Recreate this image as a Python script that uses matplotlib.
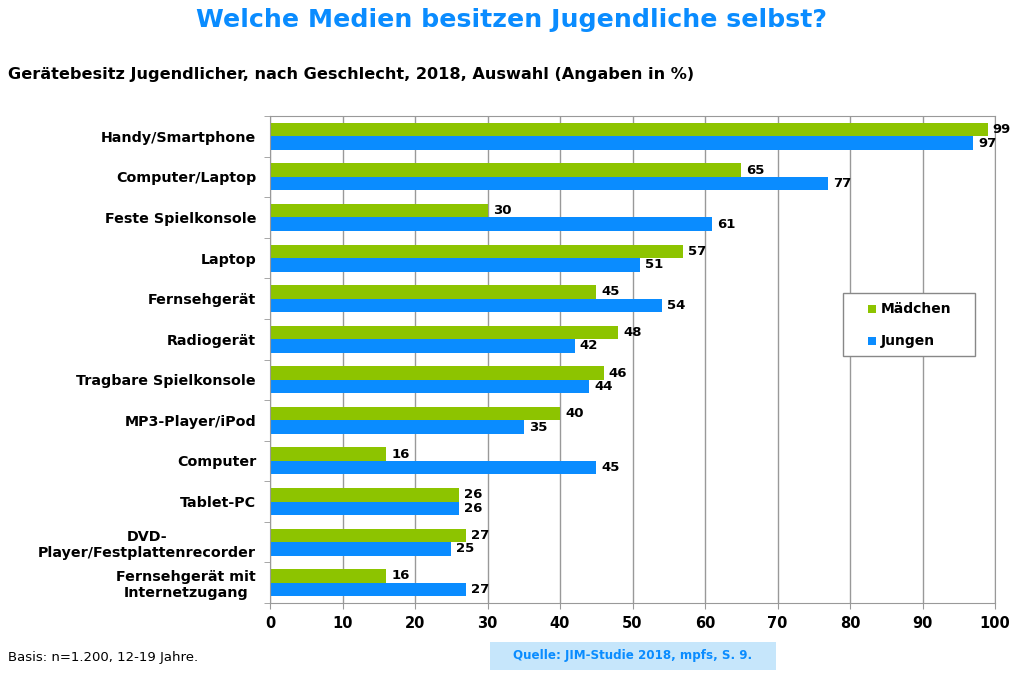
import matplotlib.pyplot as plt
from matplotlib.patches import Rectangle
import numpy as np

categories = ["Handy/Smartphone", "Computer/Laptop", "Feste Spielkonsole", "Laptop",
              "Fernsehgerät", "Radiogerät", "Tragbare Spielkonsole", "MP3-Player/iPod",
              "Computer", "Tablet-PC", "DVD-\nPlayer/Festplattenrecorder",
              "Fernsehgerät mit\nInternetzugang"]
maedchen = [99, 65, 30, 57, 45, 48, 46, 40, 16, 26, 27, 16]
jungen = [97, 77, 61, 51, 54, 42, 44, 35, 45, 26, 25, 27]

green = "#8dc400"
blue = "#0a8cff"
grey = "#999999"

plt.rcParams['font.family'] = ['DejaVu Sans']
W, H = 1024, 677
fig = plt.figure(figsize=(W / 100, H / 100), dpi=100)
ax = fig.add_axes([270 / W, 1 - 603 / H, 725 / W, 487 / H])

y = np.arange(len(categories))
h = 0.333
b1 = ax.barh(y - h / 2, maedchen, height=h, color=green)
b2 = ax.barh(y + h / 2, jungen, height=h, color=blue)

for bars, vals in ((b1, maedchen), (b2, jungen)):
    for bar, v in zip(bars, vals):
        ax.text(v + 0.7, bar.get_y() + bar.get_height() / 2, str(v),
                va="center", ha="left", fontsize=9.5, fontweight="bold")

ax.set_ylim(len(categories) - 0.5, -0.5)
ax.set_xlim(0, 100)
ax.set_xticks(range(0, 101, 10))
ax.set_yticks(y)
ax.set_yticklabels(categories, fontsize=10.3, fontweight="bold", ha="right",
                   multialignment="center")
ax.tick_params(axis="y", length=0, pad=10)
ax.set_yticks(np.arange(-0.5, len(categories), 1), minor=True)
ax.tick_params(axis="y", which="minor", length=4, color=grey)
ax.tick_params(axis="x", labelsize=10.5, length=4, color=grey, pad=5)
for lab in ax.get_xticklabels():
    lab.set_fontweight("bold")
ax.grid(axis="x", color=grey, linewidth=1)
ax.set_axisbelow(True)
for s in ax.spines.values():
    s.set_color(grey)

# legend box
fig.add_artist(Rectangle((843 / W, 1 - 356 / H), 132 / W, 63 / H, transform=fig.transFigure,
                         facecolor="white", edgecolor="#888888", linewidth=1))
for lab, col, py in (("Mädchen", green, 309), ("Jungen", blue, 341)):
    fig.add_artist(Rectangle((868 / W, 1 - (py + 4) / H), 8 / W, 8 / H,
                             transform=fig.transFigure, facecolor=col, edgecolor="none"))
    fig.text(881 / W, 1 - py / H, lab, ha="left", va="center", fontsize=10,
             fontweight="bold")

fig.text(0.5, 1 - 20 / H, "Welche Medien besitzen Jugendliche selbst?", ha="center",
         va="center", fontsize=18.2, fontweight="bold", color=blue)
fig.text(8 / W, 1 - 75 / H,
         "Gerätebesitz Jugendlicher, nach Geschlecht, 2018, Auswahl (Angaben in %)",
         ha="left", va="center", fontsize=11.6, fontweight="bold")
fig.text(8 / W, 1 - 657 / H, "Basis: n=1.200, 12-19 Jahre.", ha="left", va="center",
         fontsize=9.5)
fig.add_artist(Rectangle((490 / W, 1 - 670 / H), 286 / W, 28 / H, transform=fig.transFigure,
                         facecolor="#c6e6fb", edgecolor="none"))
fig.text(633 / W, 1 - 656 / H, "Quelle: JIM-Studie 2018, mpfs, S. 9.", ha="center",
         va="center", fontsize=8.6, fontweight="bold", color=blue)

fig.savefig("out.png", dpi=100)
